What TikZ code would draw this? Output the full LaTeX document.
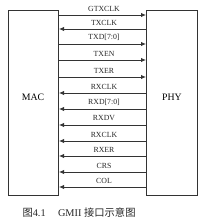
\documentclass[tikz,border=0pt]{standalone}
\usepackage{fontspec}
\setmainfont{Liberation Serif}
\newfontfamily\cjk{Noto Sans CJK SC}
\usetikzlibrary{arrows.meta}
\begin{document}
\begin{tikzpicture}[x=1pt,y=-1pt,
  blk/.style={draw=black!80,line width=1pt,minimum width=#1,anchor=north west,inner sep=0pt},
  sig/.style={draw=black!80,line width=0.9pt,-{Latex[length=5pt,width=4.5pt]}},
  lbl/.style={font=\fontsize{7.8}{8}\selectfont,inner sep=0pt,text=black!85}]
\useasboundingbox (0,0) rectangle (208,220);
\node[blk=50pt,minimum height=185pt] (mac) at (8,10) {};
\node[blk=51pt,minimum height=185pt] (phy) at (146,10) {};
\node[font=\fontsize{9.8}{10}\selectfont] (macl) at (33,97) {MAC};
\node[font=\fontsize{9.8}{10}\selectfont] (phyl) at (172,97) {PHY};
\foreach \y/\t/\d in {15/GTXCLK/r,29/TXCLK/l,44/{TXD[7:0]}/r,60/TXEN/r,77/TXER/r,93/RXCLK/l,109/{RXD[7:0]}/l,125/RXDV/l,141/RXCLK/l,156/RXER/l,172/CRS/l,187/COL/l}{
  \coordinate (a\y) at (mac.east |- 0,\y);
  \coordinate (b\y) at (phy.west |- 0,\y);
  \if r\d \draw[sig] (a\y) -- (b\y); \else \draw[sig] (b\y) -- (a\y); \fi
  \node[lbl] (t\y) at (104,\y-6.5) {\t};
}
\node[font=\fontsize{10.3}{11}\selectfont,text=black!85,anchor=west] (cap) at (19,213) {{\cjk 图}4.1\hspace{1.2em}GMII {\cjk 接口示意图}};
\end{tikzpicture}
\end{document}
